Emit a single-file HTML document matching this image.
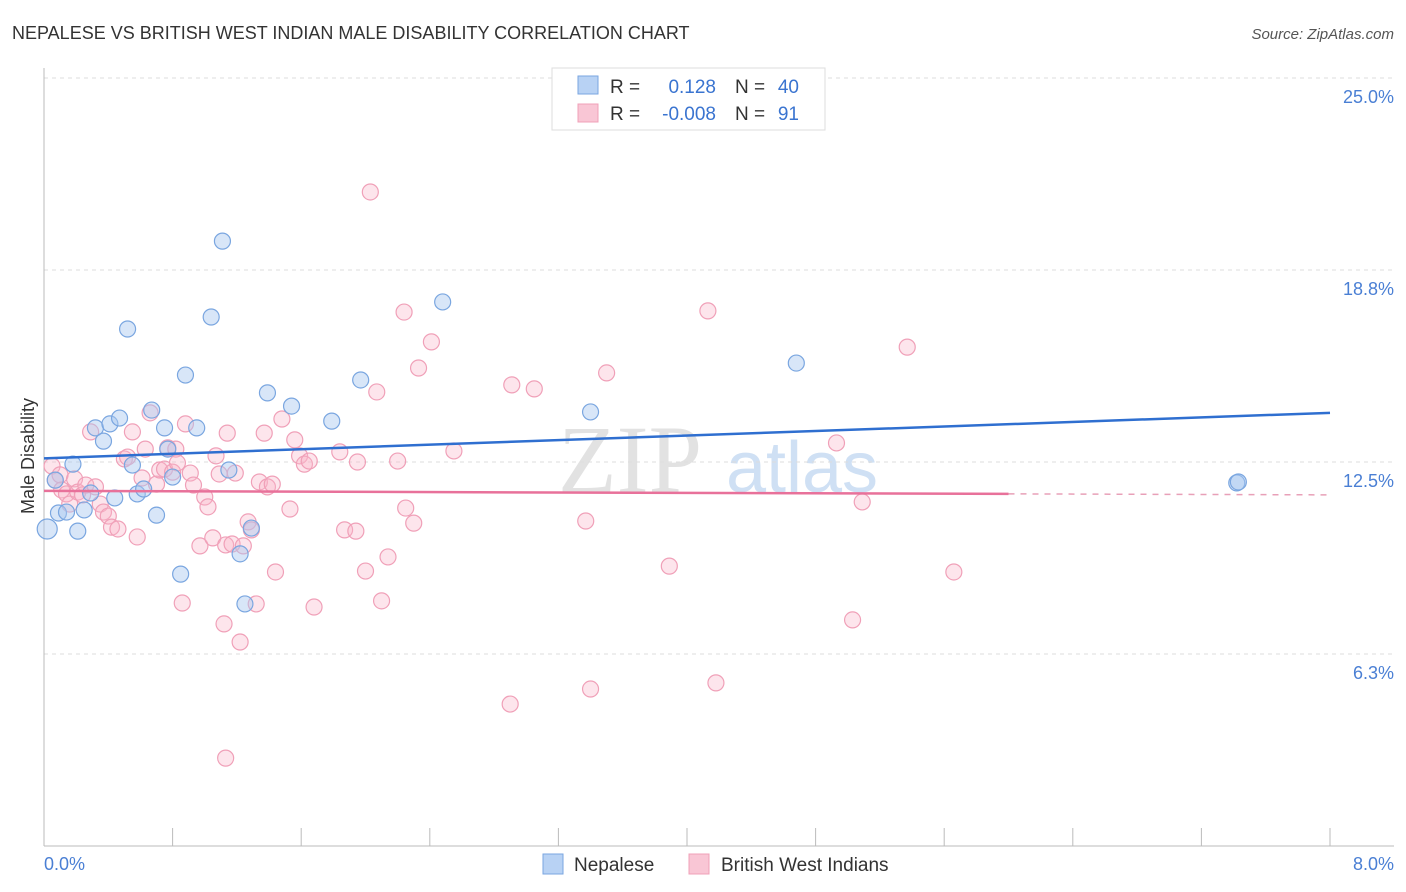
<!DOCTYPE html>
<html><head><meta charset="utf-8"><style>
body{margin:0;background:#fff;font-family:"Liberation Sans",sans-serif;}
svg{display:block}
</style></head><body>
<svg id="chart" width="1406" height="892">
<text x="12" y="39" font-size="18" fill="#333">NEPALESE VS BRITISH WEST INDIAN MALE DISABILITY CORRELATION CHART</text>
<text x="1394" y="39" font-size="15" fill="#555" font-style="italic" text-anchor="end">Source: ZipAtlas.com</text>
<text x="630" y="492" font-size="96" fill="#e2e2e2" font-family="Liberation Serif" text-anchor="middle">ZIP</text>
<text x="802" y="492" font-size="72" fill="#cfe0f4" text-anchor="middle">atlas</text>
<g id="grid"></g>
<g id="axes"></g>
<g id="marks"></g>
<text transform="translate(34,456) rotate(-90)" font-size="18" fill="#333" text-anchor="middle">Male Disability</text>
<text x="44" y="870" font-size="18" fill="#4a7fd4">0.0%</text>
<text x="1394" y="870" font-size="18" fill="#4a7fd4" text-anchor="end">8.0%</text>
<g>
<rect x="552" y="68" width="273" height="62" fill="#fff" stroke="#ddd"/>
<rect x="578" y="76" width="20" height="18" fill="#b8d2f4" stroke="#7aa6e0"/>
<rect x="578" y="104" width="20" height="18" fill="#f9c6d5" stroke="#f0a0b8"/>
<text x="610" y="93" font-size="19" fill="#333">R = </text><text x="716" y="93" font-size="19" fill="#3a74d0" text-anchor="end">0.128</text>
<text x="735" y="93" font-size="19" fill="#333">N = </text><text x="799" y="93" font-size="19" fill="#3a74d0" text-anchor="end">40</text>
<text x="610" y="120" font-size="19" fill="#333">R = </text><text x="716" y="120" font-size="19" fill="#3a74d0" text-anchor="end">-0.008</text>
<text x="735" y="120" font-size="19" fill="#333">N = </text><text x="799" y="120" font-size="19" fill="#3a74d0" text-anchor="end">91</text>
</g>
<g><rect x="543" y="854" width="20" height="20" fill="#b8d2f4" stroke="#7aa6e0"/><text x="574" y="871" font-size="19" fill="#333">Nepalese</text></g>
<g><rect x="689" y="854" width="20" height="20" fill="#f9c6d5" stroke="#f0a0b8"/><text x="721" y="871" font-size="19" fill="#333">British West Indians</text></g>
</svg>
<script>
const yTicks=[25,18.75,12.5,6.25];
const yTickLabels=["25.0%","18.8%","12.5%","6.3%"];
const xTicks=[0,0.8,1.6,2.4,3.2,4,4.8,5.6,6.4,7.2,8];
const nepX=[0.02,0.09,0.14,0.18,0.21,0.25,0.29,0.32,0.37,0.41,0.44,0.47,0.52,0.55,0.58,0.62,0.67,0.70,0.75,0.77,0.80,0.85,0.88,0.95,1.04,1.11,1.15,1.22,1.25,1.29,1.39,1.54,1.79,1.97,2.48,3.40,4.68,7.42,7.43,0.07];
const nepY=[10.32,10.84,10.87,12.43,10.25,10.94,11.49,13.61,13.18,13.74,11.33,13.93,16.83,12.40,11.46,11.62,14.19,10.77,13.61,12.92,12.01,8.85,15.33,13.61,17.22,19.69,12.24,9.51,7.88,10.35,14.75,14.32,13.83,15.17,17.71,14.13,15.72,11.82,11.85,11.91];
const bwiX=[0.05,0.07,0.10,0.11,0.14,0.16,0.19,0.21,0.24,0.26,0.29,0.32,0.35,0.37,0.40,0.42,0.46,0.50,0.52,0.55,0.58,0.61,0.63,0.66,0.70,0.72,0.75,0.77,0.80,0.82,0.83,0.86,0.88,0.91,0.93,0.97,1.00,1.02,1.05,1.07,1.09,1.12,1.13,1.14,1.17,1.19,1.22,1.24,1.27,1.29,1.32,1.34,1.37,1.39,1.42,1.44,1.48,1.53,1.56,1.59,1.62,1.65,1.68,1.84,1.87,1.94,1.95,2.00,2.03,2.07,2.10,2.14,2.20,2.24,2.25,2.30,2.33,2.41,2.55,2.90,2.91,3.05,3.37,3.40,3.50,3.89,4.13,4.18,4.93,5.03,5.09,5.37,5.66,1.13];
const bwiY=[12.37,11.91,12.08,11.59,11.46,11.13,11.95,11.52,11.43,11.75,13.48,11.69,11.13,10.87,10.74,10.38,10.32,12.60,12.66,13.48,10.06,11.98,12.92,14.10,11.78,12.24,12.27,12.96,12.17,12.92,12.47,7.91,13.74,12.14,11.75,9.77,11.36,11.04,10.03,12.70,12.11,7.23,9.80,13.44,9.83,12.14,6.64,9.77,10.55,10.29,7.88,11.85,13.44,11.69,11.78,8.92,13.90,10.97,13.22,12.70,12.43,12.53,7.78,12.83,10.29,10.25,12.50,8.95,21.29,14.78,7.98,9.41,12.53,17.38,11.00,10.51,15.56,16.41,12.86,4.62,15.01,14.88,10.58,5.11,15.40,9.11,17.42,5.31,13.12,7.36,11.20,16.24,8.92,2.86];
const nepTrend=[12.62,14.1];
const bwiTrend=[11.56,11.43];
const NS="http://www.w3.org/2000/svg";
const X=v=>44+v*160.75, Y=v=>846-v*30.72;
function mk(t,a,p){const e=document.createElementNS(NS,t);for(const k in a)e.setAttribute(k,a[k]);p.appendChild(e);return e;}
const grid=document.getElementById('grid'),axes=document.getElementById('axes'),marks=document.getElementById('marks');
yTicks.forEach((v,i)=>{
 const l=mk('line',{x1:44,x2:1394,y1:Y(v),y2:Y(v),stroke:'#ddd','stroke-dasharray':'4,4'},grid);
 
 
 const t=mk('text',{x:1394,y:Y(v)+25,'font-size':18,fill:'#4a7fd4','text-anchor':'end'},grid);
 t.textContent=yTickLabels[i];
 
 
});
const ya=mk('line',{x1:44,x2:44,y1:68,y2:846,stroke:'#bbb'},axes);


const xa=mk('line',{x1:44,x2:1394,y1:846,y2:846,stroke:'#bbb'},axes);


xTicks.forEach(v=>{
 const t=mk('line',{x1:X(v),x2:X(v),y1:828,y2:846,stroke:'#bbb'},axes);
 
 
});
bwiX.forEach((v,i)=>{
 const c=mk('circle',{cx:X(v),cy:Y(bwiY[i]),r:8,fill:'rgba(248,180,200,0.35)',stroke:'#f0a0b8','stroke-width':1.2},marks);
 
 
});
nepX.forEach((v,i)=>{
 const c=mk('circle',{cx:X(v),cy:Y(nepY[i]),r:i==0?10:8,fill:'rgba(168,200,240,0.45)',stroke:'#7aa6e0','stroke-width':1.2},marks);
 
 
});
const nt=mk('line',{x1:X(0),y1:Y(nepTrend[0]),x2:X(8),y2:Y(nepTrend[1]),stroke:'#2f6fd0','stroke-width':2.5},marks);


const yAt=x=>bwiTrend[0]+(bwiTrend[1]-bwiTrend[0])*x/8;
const bt=mk('line',{x1:X(0),y1:Y(yAt(0)),x2:X(6),y2:Y(yAt(6)),stroke:'#e8719a','stroke-width':2.5},marks);


const bd=mk('line',{x1:X(6),y1:Y(yAt(6)),x2:X(8),y2:Y(yAt(8)),stroke:'#e8a0b8','stroke-width':1.5,'stroke-dasharray':'6,6'},marks);


</script>
</body></html>
